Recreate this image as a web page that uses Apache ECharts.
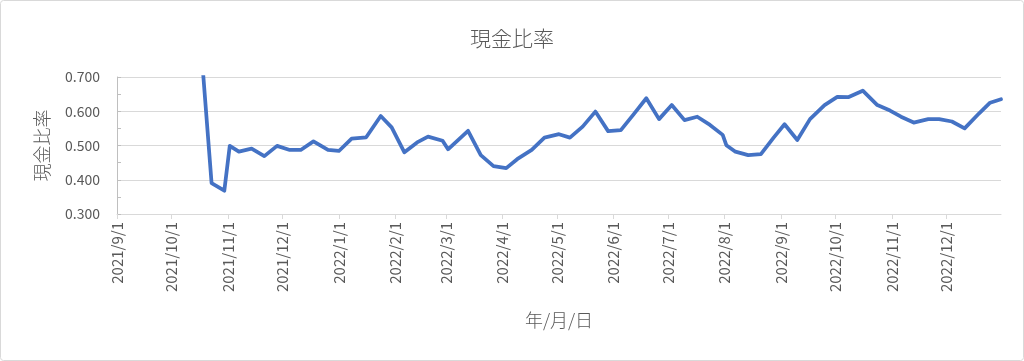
<!DOCTYPE html>
<html>
<head>
<meta charset="utf-8">
<script src="https://cdn.jsdelivr.net/npm/echarts@6/dist/echarts.min.js"></script>
<style>
html,body{margin:0;padding:0;background:#fff;}
#chart{width:1024px;height:361px;}
</style>
</head>
<body>
<div id="chart"></div>
<script>
const titleText = '現金比率';
const yAxisName = '現金比率';
const xAxisName = '年/月/日';
const dates = [
 '2021-10-16','2021-10-23','2021-10-30','2021-11-02','2021-11-07','2021-11-14','2021-11-21','2021-11-28',
 '2021-12-05','2021-12-11','2021-12-18','2021-12-26','2022-01-01','2022-01-08','2022-01-16','2022-01-24',
 '2022-01-30','2022-02-06','2022-02-13','2022-02-19','2022-02-27','2022-03-02','2022-03-13','2022-03-20',
 '2022-03-27','2022-04-03','2022-04-09','2022-04-17','2022-04-24','2022-05-02','2022-05-08','2022-05-15',
 '2022-05-22','2022-05-29','2022-06-05','2022-06-12','2022-06-19','2022-06-26','2022-07-03','2022-07-10',
 '2022-07-17','2022-07-24','2022-07-31','2022-08-02','2022-08-07','2022-08-14','2022-08-21','2022-08-28',
 '2022-09-03','2022-09-10','2022-09-17','2022-09-25','2022-10-02','2022-10-08','2022-10-16','2022-10-24',
 '2022-10-31','2022-11-06','2022-11-13','2022-11-21','2022-11-27','2022-12-04','2022-12-11','2022-12-19',
 '2022-12-25','2022-12-31'
];
const values = [
 0.872,0.390,0.368,0.499,0.482,0.491,0.469,0.499,
 0.487,0.487,0.512,0.487,0.484,0.520,0.524,0.586,
 0.553,0.480,0.509,0.526,0.514,0.489,0.543,0.472,
 0.440,0.434,0.460,0.487,0.523,0.533,0.523,0.555,
 0.599,0.542,0.545,0.591,0.638,0.577,0.618,0.574,
 0.584,0.560,0.531,0.501,0.482,0.472,0.475,0.523,
 0.562,0.516,0.577,0.618,0.642,0.641,0.660,0.618,
 0.602,0.584,0.567,0.577,0.577,0.570,0.550,0.594,
 0.625,0.635
];
const xMin = '2021-09-01';
const xMax = '2022-12-31';
const yMin = 0.3, yMax = 0.7, yStep = 0.1;

const font = "'Noto Sans CJK JP', 'Noto Sans', sans-serif";
const chart = echarts.init(document.getElementById('chart'), null, {renderer:'canvas'});
chart.setOption({
  animation:false,
  backgroundColor:'#fff',
  textStyle:{fontFamily:font},
  graphic:[{type:'rect',shape:{x:0.5,y:0.5,width:1023,height:360,r:3},style:{fill:'none',stroke:'#d9d9d9',lineWidth:1},silent:true}],
  title:{text:titleText,left:'center',top:23,textStyle:{fontFamily:font,fontSize:21,fontWeight:300,color:'#595959'}},
  grid:{left:117,right:23,top:77,bottom:147,containLabel:false},
  xAxis:{
    type:'time',min:xMin,max:xMax,
    minInterval:28*86400000,maxInterval:31*86400000,
    name:xAxisName,nameLocation:'middle',nameGap:97,
    nameTextStyle:{fontFamily:font,fontSize:18,fontWeight:300,color:'#595959'},
    axisLine:{show:true,lineStyle:{color:'#d9d9d9',width:1}},
    axisTick:{show:true,length:5,lineStyle:{color:'#d9d9d9'}},
    splitLine:{show:false},
    axisLabel:{rotate:90,formatter:'{yyyy}/{M}/{d}',fontFamily:font,fontSize:15,color:'#595959',margin:8,showMaxLabel:false}
  },
  yAxis:{
    type:'value',min:yMin,max:yMax,interval:yStep,
    name:yAxisName,nameLocation:'middle',nameGap:66,nameRotate:90,
    nameTextStyle:{fontFamily:font,fontSize:18,fontWeight:300,color:'#595959'},
    axisLine:{show:true,lineStyle:{color:'#bfbfbf',width:1}},
    axisTick:{show:true,inside:true,length:4,lineStyle:{color:'#bfbfbf'}},
    minorTick:{show:true,splitNumber:2,length:4,lineStyle:{color:'#bfbfbf'}},
    splitLine:{show:true,lineStyle:{color:'#d9d9d9',width:1}},
    axisLabel:{formatter:v=>v.toFixed(3),fontFamily:font,fontSize:14,color:'#595959',margin:17}
  },
  series:[{
    type:'line',
    data:dates.map((d,i)=>[d,values[i]]),
    showSymbol:false,symbol:'none',
    clip:true,
    lineStyle:{color:'#4472c4',width:3.75,join:'round',cap:'round'},
    itemStyle:{color:'#4472c4'}
  }]
});
</script>
</body>
</html>
